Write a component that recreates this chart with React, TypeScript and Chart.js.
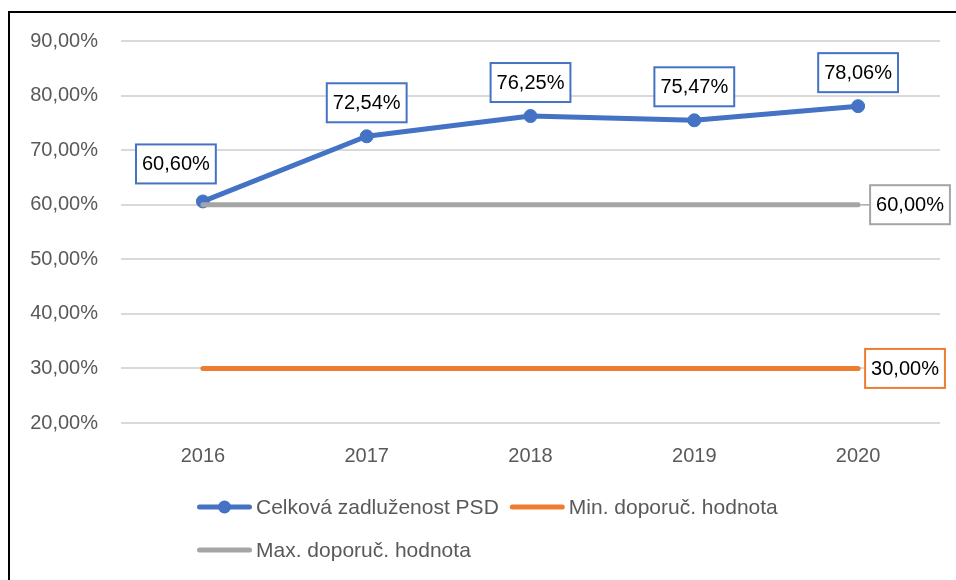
import React, { useEffect, useRef } from 'react';
import { Chart, registerables } from 'chart.js';

Chart.register(...registerables);

// ---- data ----
const categories = ['2016', '2017', '2018', '2019', '2020'];
const debtValues = [60.6, 72.54, 76.25, 75.47, 78.06];
const minValues = [30, 30, 30, 30, 30];
const maxValues = [60, 60, 60, 60, 60];
const seriesNames = ['Celková zadluženost PSD', 'Min. doporuč. hodnota', 'Max. doporuč. hodnota'];
const yMin = 20;
const yMax = 90;
const yStep = 10;

// ---- style ----
const BLUE = '#4472C4';
const ORANGE = '#ED7D31';
const GRAY = '#A5A5A5';
const TEXT_GRAY = '#595959';
const FONT = '"Liberation Sans", Arial, sans-serif';
const TICK_SIZE = 20;
const LABEL_SIZE = 20;
const LEGEND_SIZE = 21;

const fmt = (v: number) => v.toFixed(2).replace('.', ',') + '%';

// label placement per dataset (style, not data)
const labelStyles: any[] = [
  { mode: 'above', color: BLUE, gap: 14, dx: [-27, 0, 0, 0, 0], dy: [-4, 0, 0, 0, 0] },
  { mode: 'right', color: ORANGE, gap: 7, leader: false },
  { mode: 'right', color: GRAY, gap: 12, leader: true },
];

const boxLabelPlugin = {
  id: 'boxLabels',
  afterDatasetsDraw(chart: any) {
    const ctx = chart.ctx;
    ctx.save();
    ctx.font = `${LABEL_SIZE}px ${FONT}`;
    ctx.textAlign = 'center';
    ctx.textBaseline = 'middle';
    const padX = 6;
    const h = 39;
    chart.data.datasets.forEach((ds: any, di: number) => {
      const st = labelStyles[di];
      if (!st) return;
      const meta = chart.getDatasetMeta(di);
      const drawBox = (x: number, y: number, w: number, text: string) => {
        ctx.fillStyle = '#ffffff';
        ctx.fillRect(x, y, w, h);
        ctx.strokeStyle = st.color;
        ctx.lineWidth = 2;
        ctx.strokeRect(x, y, w, h);
        ctx.fillStyle = '#000000';
        ctx.fillText(text, x + w / 2, y + h / 2 + 1);
      };
      if (st.mode === 'above') {
        meta.data.forEach((pt: any, i: number) => {
          const text = fmt(ds.data[i]);
          const w = ctx.measureText(text).width + padX * 2;
          const cx = pt.x + (st.dx?.[i] || 0);
          const bottom = pt.y - st.gap + (st.dy?.[i] || 0);
          drawBox(cx - w / 2, bottom - h, w, text);
        });
      } else {
        const i = ds.data.length - 1;
        const pt = meta.data[i];
        const text = fmt(ds.data[i]);
        const w = ctx.measureText(text).width + padX * 2;
        const left = pt.x + st.gap;
        if (st.leader) {
          ctx.beginPath();
          ctx.strokeStyle = st.color;
          ctx.lineWidth = 1;
          ctx.moveTo(pt.x + 3, pt.y);
          ctx.lineTo(left, pt.y);
          ctx.stroke();
        }
        drawBox(left, pt.y - h / 2, w, text);
      }
    });
    ctx.restore();
  },
};

const legendPlugin = {
  id: 'gridLegend',
  afterDraw(chart: any) {
    const ctx = chart.ctx;
    ctx.save();
    ctx.font = `${LEGEND_SIZE}px ${FONT}`;
    ctx.textBaseline = 'middle';
    ctx.textAlign = 'left';
    const startX = 187;
    const row1 = 494;
    const rowGap = 43;
    const lineLen = 55;
    const textGap = 4;
    const colGap = 11;
    const items = chart.data.datasets.map((ds: any) => ({
      text: ds.label,
      color: ds.borderColor,
      marker: ds.pointRadius > 0,
      radius: ds.pointRadius,
    }));
    const widths = items.map((it: any) => lineLen + textGap + ctx.measureText(it.text).width);
    const colW = Math.max(...widths) + colGap;
    items.forEach((it: any, i: number) => {
      const col = i % 2;
      const row = Math.floor(i / 2);
      const x = startX + col * colW;
      const y = row1 + row * rowGap;
      ctx.beginPath();
      ctx.strokeStyle = it.color;
      ctx.lineWidth = 5;
      ctx.lineCap = 'round';
      ctx.moveTo(x + 2.5, y);
      ctx.lineTo(x + lineLen - 2.5, y);
      ctx.stroke();
      if (it.marker) {
        ctx.beginPath();
        ctx.fillStyle = it.color;
        ctx.arc(x + lineLen / 2, y, it.radius, 0, Math.PI * 2);
        ctx.fill();
      }
      ctx.fillStyle = TEXT_GRAY;
      ctx.fillText(it.text, x + lineLen + textGap, y + 1);
    });
    ctx.restore();
  },
};

export default function App() {
  const ref = useRef<HTMLCanvasElement>(null);

  useEffect(() => {
    if (!ref.current) return;
    const chart = new Chart(ref.current, {
      type: 'line',
      data: {
        labels: categories,
        datasets: [
          {
            label: seriesNames[0],
            data: debtValues,
            borderColor: BLUE,
            backgroundColor: BLUE,
            borderWidth: 5,
            pointRadius: 6.5,
            pointBorderWidth: 1,
            pointBackgroundColor: BLUE,
            pointBorderColor: BLUE,
            borderCapStyle: 'round',
            borderJoinStyle: 'round',
            order: 2,
          },
          {
            label: seriesNames[1],
            data: minValues,
            borderColor: ORANGE,
            backgroundColor: ORANGE,
            borderWidth: 5,
            pointRadius: 0,
            borderCapStyle: 'round',
            order: 1,
          },
          {
            label: seriesNames[2],
            data: maxValues,
            borderColor: GRAY,
            backgroundColor: GRAY,
            borderWidth: 5,
            pointRadius: 0,
            borderCapStyle: 'round',
            order: 1,
          },
        ],
      },
      options: {
        responsive: false,
        animation: false,
        layout: { padding: { top: 28, right: 16, left: 0, bottom: 0 } },
        plugins: {
          legend: { display: false },
          tooltip: { enabled: false },
        },
        scales: {
          x: {
            offset: true,
            grid: { display: false, drawTicks: false },
            border: { display: false },
            ticks: {
              color: TEXT_GRAY,
              font: { family: FONT, size: TICK_SIZE },
              padding: 21,
              maxRotation: 0,
            },
            afterFit: (s: any) => {
              s.height = 157;
              s.paddingLeft = 0;
              s.paddingRight = 0;
            },
          },
          y: {
            min: yMin,
            max: yMax,
            grid: { color: '#D9D9D9', lineWidth: 2, drawTicks: false },
            border: { display: false },
            ticks: {
              stepSize: yStep,
              color: TEXT_GRAY,
              font: { family: FONT, size: TICK_SIZE },
              padding: 23,
              callback: (v: any) => fmt(Number(v)),
            },
            afterFit: (s: any) => {
              s.width = 111;
              s.paddingTop = 0;
              s.paddingBottom = 0;
            },
          },
        },
      },
      plugins: [boxLabelPlugin, legendPlugin],
    });
    return () => chart.destroy();
  }, []);

  return (
    <div
      style={{
        position: 'fixed',
        left: 8,
        top: 11,
        width: 948,
        height: 569,
        borderTop: '2px solid #000',
        borderLeft: '2px solid #000',
        boxSizing: 'border-box',
        background: '#fff',
        overflow: 'hidden',
      }}
    >
      <canvas ref={ref} width={946} height={567} style={{ display: 'block', width: 946, height: 567 }} />
    </div>
  );
}
